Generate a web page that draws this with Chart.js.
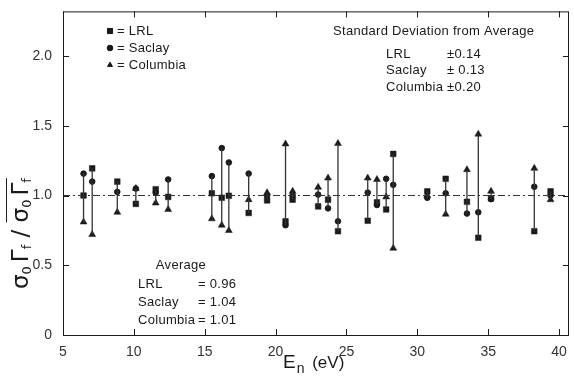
<!DOCTYPE html>
<html>
<head>
<meta charset="utf-8">
<script src="https://cdn.jsdelivr.net/npm/chart.js@4/dist/chart.umd.min.js"></script>
<style>
  html, body { margin: 0; padding: 0; background: #fff; }
  #wrap { width: 574px; height: 377px; }
</style>
</head>
<body>
<div id="wrap"><canvas id="chart" width="574" height="377"></canvas></div>
<script>
// neutron energies of the resonances (eV)
const energies = [6.45, 7.06, 8.83, 10.14, 11.54, 12.42, 15.5, 16.2, 16.7, 18.1, 19.4, 20.7, 21.2,
  23.0, 23.7, 24.4, 26.5, 27.15, 27.8, 28.3, 30.7, 32.0, 33.5, 34.3, 35.2, 38.25, 39.4];
// sigma0 Gamma_f divided by the average, per lab
const lrl = [1.00, 1.195, 1.10, 0.94, 1.045, 0.99, 1.016, 0.984, 0.998, 0.875, 0.965, 0.815, 0.97,
  0.922, 0.97, 0.744, 0.819, 0.951, 0.90, 1.298, 1.03, 1.12, 0.955, 0.697, 0.98, 0.744, 1.03];
const saclay = [1.157, 1.10, 1.026, 1.05, 1.02, 1.115, 1.139, 1.34, 1.237, 1.157, 1.00, 0.787, 1.0,
  1.007, 0.908, 0.815, 1.021, 0.932, 1.12, 1.077, 0.984, 1.016, 0.871, 0.88, 0.974, 1.063, 1.0];
const columbia = [0.81, 0.72, 0.88, 1.05, 0.946, 0.90, 0.833, 0.787, 0.749, 0.97, 1.02, 1.37, 1.03,
  1.059, 1.125, 1.373, 1.125, 1.115, 0.99, 0.622, 1.0, 0.866, 1.185, 1.44, 1.03, 1.195, 0.97];

const xTicks = [5, 10, 15, 20, 25, 30, 35, 40];
const yTicks = [0, 0.5, 1.0, 1.5, 2.0];

const ink = '#1a1a1a';
const FONT = '"DejaVu Sans", sans-serif';
const TXT = '"Liberation Sans", Arial, sans-serif';

// vertical bars joining the three values at each energy
let ranges = [];
for (let i in energies) {
  let v = [lrl[i], saclay[i], columbia[i]];
  ranges.push({ x: energies[i], y: Math.min(...v) });
  ranges.push({ x: energies[i], y: Math.max(...v) });
  ranges.push({ x: energies[i], y: null });
}

function pts(arr) {
  return energies.map((e, i) => ({ x: e, y: arr[i] }));
}

// frame, inner ticks and all the text of the figure
const decor = {
  id: 'decor',
  afterDraw(chart) {
    const c = chart.ctx;
    const a = chart.chartArea;
    const xs = chart.scales.x, ys = chart.scales.y;
    c.save();
    c.strokeStyle = ink;
    c.lineWidth = 1;
    c.strokeRect(a.left + 0.5, a.top + 0.5, a.right - a.left - 1, a.bottom - a.top);
    c.beginPath();
    xTicks.forEach(t => {
      let p = Math.round(xs.getPixelForValue(t)) + 0.5;
      c.moveTo(p, a.bottom); c.lineTo(p, a.bottom - 6);
      c.moveTo(p, a.top); c.lineTo(p, a.top + 6);
    });
    yTicks.forEach(t => {
      let p = Math.round(ys.getPixelForValue(t)) + 0.5;
      c.moveTo(a.left, p); c.lineTo(a.left + 6, p);
      c.moveTo(a.right, p); c.lineTo(a.right - 6, p);
    });
    c.stroke();

    c.fillStyle = ink;
    c.textBaseline = 'middle';
    c.font = '13px ' + TXT;
    c.letterSpacing = '0.3px';

    // legend
    const lx = 110;
    [['rect', '= LRL', 31], ['circle', '= Saclay', 48], ['triangle', '= Columbia', 65]].forEach(r => {
      let rad = r[0] === 'rect' ? 3.6 : 2.8;
      Chart.helpers.drawPoint(c, { pointStyle: r[0], radius: rad, rotation: 0, borderWidth: 1 }, lx, r[2]);
      c.fill();
      c.textAlign = 'left';
      c.fillText(r[1], lx + 7, r[2]);
    });

    // standard deviation box
    c.textAlign = 'left';
    c.fillText('Standard Deviation from Average', 333, 31);
    [['LRL', '\u00b10.14', 54], ['Saclay', '\u00b1 0.13', 70], ['Columbia', '\u00b10.20', 87]].forEach(r => {
      c.fillText(r[0], 386, r[2]);
      c.fillText(r[1], 447, r[2]);
    });

    // averages
    c.textAlign = 'center';
    c.fillText('Average', 181, 265);
    c.textAlign = 'left';
    [['LRL', '= 0.96', 284], ['Saclay', '= 1.04', 302], ['Columbia', '= 1.01', 320]].forEach(r => {
      c.fillText(r[0], 138, r[2]);
      c.fillText(r[1], 198, r[2]);
    });
    c.letterSpacing = '0px';

    // x title: E_n (eV)
    let tx = 283, ty = 363;
    c.textAlign = 'left';
    c.font = '19px ' + TXT;
    c.fillText('E', tx, ty);
    let w = c.measureText('E').width;
    c.font = '14px ' + TXT;
    c.fillText('n', tx + w + 1, ty + 6);
    w += c.measureText('n').width + 1;
    c.font = '17px ' + TXT;
    c.fillText(' (eV)', tx + w + 3, ty);

    // y title: sigma0 Gamma_f / overline(sigma0 Gamma_f)
    c.translate(22, 196);
    c.rotate(-Math.PI / 2);
    const part = (x0) => {
      let x = x0;
      c.font = '23px ' + FONT; c.fillText('\u03c3', x, 0); x += c.measureText('\u03c3').width;
      c.font = '13px ' + FONT; c.fillText('0', x, 6); x += c.measureText('0').width + 4;
      c.font = '23px ' + FONT; c.fillText('\u0393', x, 0); x += c.measureText('\u0393').width;
      c.font = '13px ' + FONT; c.fillText('f', x, 6); x += c.measureText('f').width;
      return x;
    };
    c.textAlign = 'left';
    let x1 = part(-93);
    c.font = '23px ' + FONT;
    c.fillText(' / ', x1, 0);
    let x2s = x1 + c.measureText(' / ').width;
    let x2e = part(x2s);
    c.beginPath();
    c.moveTo(x2s, -15.5); c.lineTo(x2e, -15.5);
    c.stroke();
    c.restore();
  }
};

const ctx = document.getElementById('chart');

new Chart(ctx, {
  type: 'scatter',
  data: {
    datasets: [
      {
        label: 'unity',
        type: 'line',
        data: [{ x: 5, y: 1 }, { x: 40.7, y: 1 }],
        borderColor: '#333',
        borderWidth: 1,
        borderDash: [7, 3, 2, 3],
        pointRadius: 0,
      },
      {
        label: 'range',
        type: 'line',
        data: ranges,
        borderColor: '#333',
        borderWidth: 1.3,
        pointRadius: 0,
        spanGaps: false,
      },
      {
        label: 'LRL',
        data: pts(lrl),
        pointStyle: 'rect',
        pointRadius: 4,
        borderWidth: 0.5,
        backgroundColor: ink,
        borderColor: ink,
      },
      {
        label: 'Saclay',
        data: pts(saclay),
        pointStyle: 'circle',
        pointRadius: 2.8,
        borderWidth: 1,
        backgroundColor: ink,
        borderColor: ink,
      },
      {
        label: 'Columbia',
        data: pts(columbia),
        pointStyle: 'triangle',
        pointRadius: 4,
        borderWidth: 0.5,
        backgroundColor: ink,
        borderColor: ink,
      },
    ],
  },
  options: {
    responsive: false,
    animation: false,
    layout: { padding: { top: 5, right: 2, left: 0, bottom: 0 } },
    plugins: { legend: { display: false }, tooltip: { enabled: false } },
    scales: {
      x: {
        type: 'linear',
        min: 5,
        max: 40.7,
        afterBuildTicks: s => { s.ticks = xTicks.map(v => ({ value: v })); },
        afterFit: s => { s.height = 42; },
        grid: { display: false },
        border: { display: false },
        ticks: { color: '#333', font: { size: 14, family: TXT }, padding: 1, maxRotation: 0 },
      },
      y: {
        min: 0,
        max: 2.32,
        afterBuildTicks: s => { s.ticks = yTicks.map(v => ({ value: v })); },
        afterFit: s => { s.width = 63; },
        grid: { display: false },
        border: { display: false },
        ticks: {
          color: '#333',
          font: { size: 14, family: TXT },
          padding: 3,
          callback: v => v === 0 ? '0' : v.toFixed(1),
        },
      },
    },
  },
  plugins: [decor],
});
</script>
</body>
</html>
